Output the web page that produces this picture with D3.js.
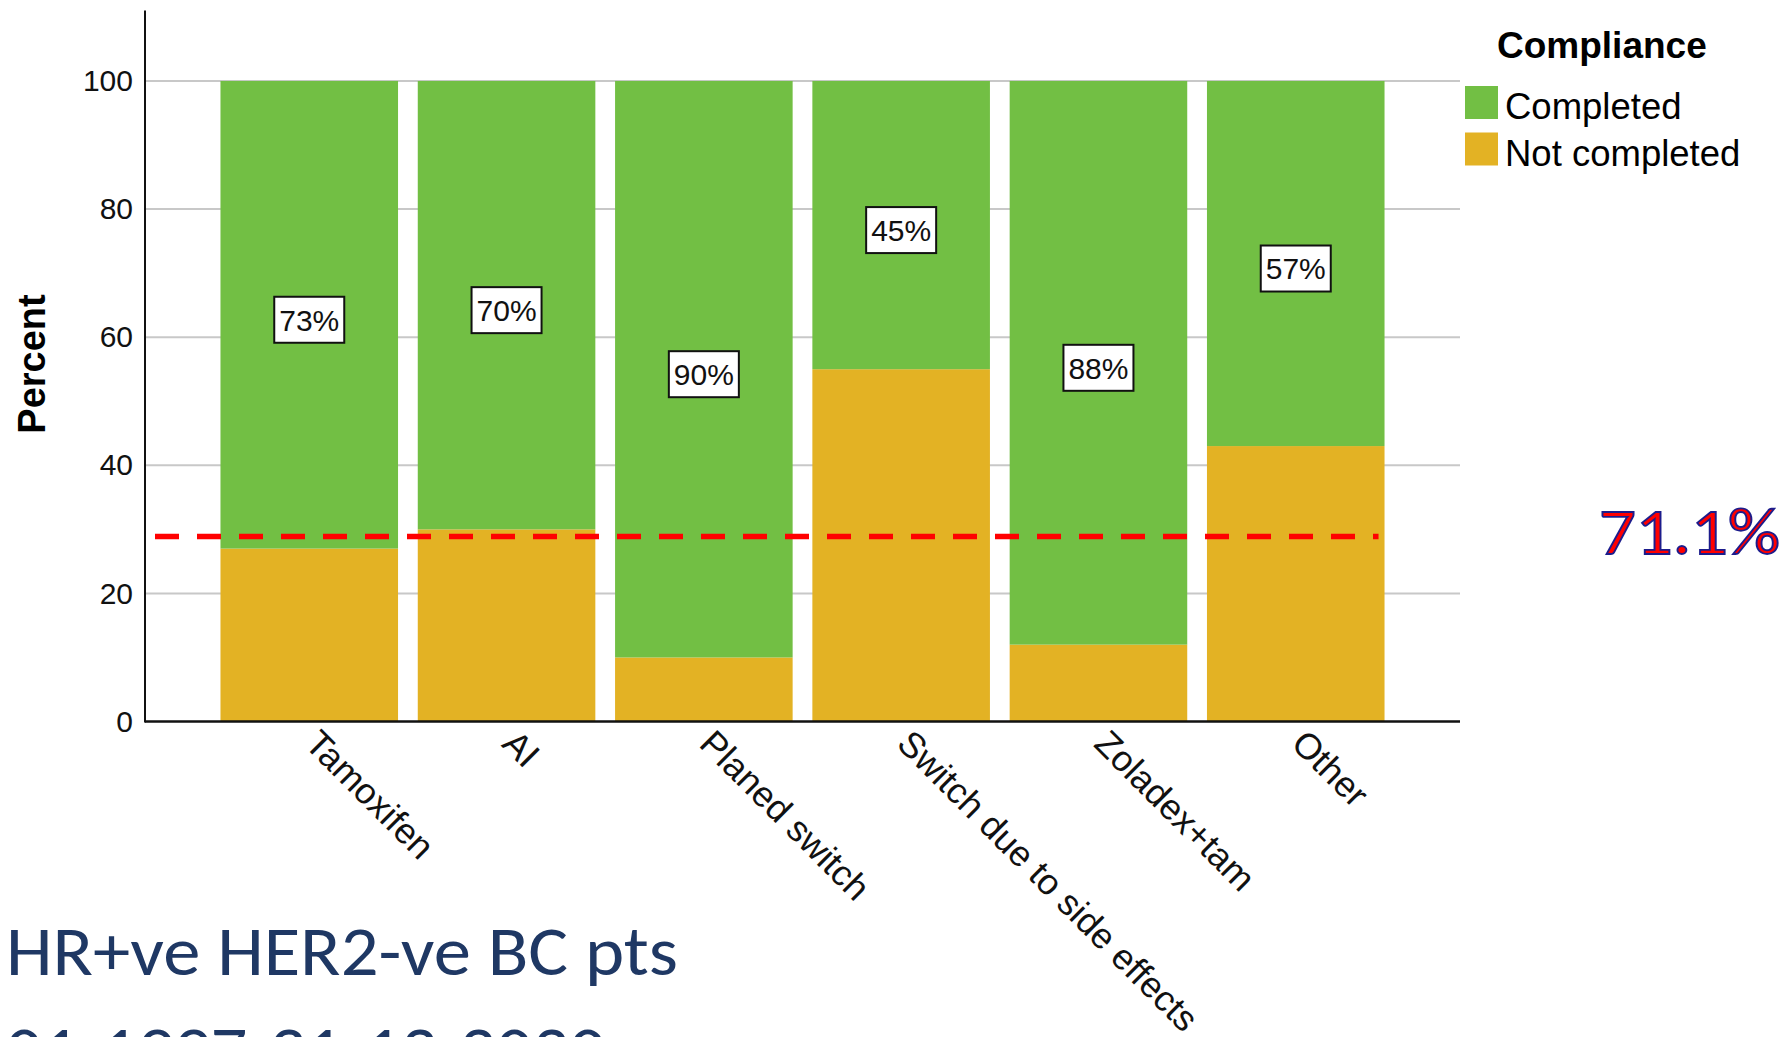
<!DOCTYPE html>
<html>
<head>
<meta charset="utf-8">
<script src="https://cdn.jsdelivr.net/npm/d3@7"></script>
<style>
  html, body { margin: 0; padding: 0; background: #fff; overflow: hidden; }
  svg { display: block; }
</style>
</head>
<body>
<svg id="chart" width="1788" height="1037"></svg>
<script>
// Treatment groups and the share of patients in each compliance class (%)
const categories = ["Tamoxifen", "AI", "Planed switch", "Switch due to side effects", "Zoladex+tam", "Other"];
const completed = [73, 70, 90, 45, 88, 57];
const notCompleted = [27, 30, 10, 55, 12, 43];
const overallCompleted = 71.1;
const yTicks = [0, 20, 40, 60, 80, 100];
const seriesNames = ["Completed", "Not completed"];
const seriesColors = ["#72bf44", "#e3b224"];
const footerLines = ["HR+ve HER2-ve BC pts", "01-1997-31-12-2020"];
const footerWidths = [672, 600];

const svg = d3.select("#chart");
const plot = { left: 145, right: 1460, top: 10.5, bottom: 721.5 };

const x = d3.scaleBand()
  .domain(categories)
  .range([plot.left, plot.right])
  .paddingInner(0.1)
  .paddingOuter(0.3825);

const y = d3.scaleLinear()
  .domain([0, 111])
  .range([plot.bottom, plot.top]);

// Horizontal gridlines
svg.append("g")
  .selectAll("line")
  .data(yTicks.filter(t => t > 0))
  .join("line")
  .attr("x1", plot.left).attr("x2", plot.right)
  .attr("y1", d => y(d)).attr("y2", d => y(d))
  .attr("stroke", "#c8c8c8").attr("stroke-width", 2);

// Stacked bars: "Not completed" at the bottom, "Completed" on top
const rows = categories.map((c, i) => ({ cat: c, Completed: completed[i], "Not completed": notCompleted[i] }));
const stack = d3.stack().keys(["Not completed", "Completed"])(rows);
const color = d3.scaleOrdinal().domain(seriesNames).range(seriesColors);

svg.append("g")
  .selectAll("g")
  .data(stack)
  .join("g")
  .attr("fill", s => color(s.key))
  .selectAll("rect")
  .data(s => s)
  .join("rect")
  .attr("x", d => x(d.data.cat))
  .attr("width", x.bandwidth())
  .attr("y", d => y(d[1]))
  .attr("height", d => y(d[0]) - y(d[1]));

// Boxed percentage labels in the middle of each "Completed" segment
const compLayer = stack.find(s => s.key === "Completed");
const labels = svg.append("g")
  .selectAll("g")
  .data(compLayer)
  .join("g")
  .attr("transform", d => `translate(${x(d.data.cat) + x.bandwidth() / 2},${(y(d[0]) + y(d[1])) / 2 + 5})`);
labels.append("rect")
  .attr("x", -35).attr("y", -23).attr("width", 70).attr("height", 46)
  .attr("fill", "#fff").attr("stroke", "#111").attr("stroke-width", 2);
labels.append("text")
  .attr("text-anchor", "middle")
  .attr("dy", "0.36em")
  .attr("font-family", "Liberation Sans, Arial, sans-serif")
  .attr("font-size", 30)
  .attr("fill", "#111")
  .text(d => `${d.data.Completed}%`);

// Overall completion reference line
const refY = y(100 - overallCompleted);
svg.append("line")
  .attr("x1", plot.left + 10).attr("x2", x(categories[categories.length - 1]) + x.bandwidth() - 6)
  .attr("y1", refY).attr("y2", refY)
  .attr("stroke", "#ff0000").attr("stroke-width", 5.5)
  .attr("stroke-dasharray", "24 18");

svg.append("text")
  .attr("x", 1599).attr("y", refY + 18)
  .attr("font-family", "Carlito, Lato, sans-serif")
  .attr("font-size", 66)
  .attr("textLength", 181).attr("lengthAdjust", "spacingAndGlyphs")
  .attr("fill", "#ff0000")
  .attr("stroke", "#1c1c8c").attr("stroke-width", 1.8)
  .text(`${overallCompleted}%`);

// Y axis
const yAxis = svg.append("g")
  .attr("transform", `translate(${plot.left},0)`)
  .call(d3.axisLeft(y).tickValues(yTicks).tickSize(0).tickPadding(12));
yAxis.select(".domain").remove();
yAxis.selectAll("text")
  .attr("font-family", "Liberation Sans, Arial, sans-serif")
  .attr("font-size", 30)
  .attr("fill", "#111");
svg.append("line")
  .attr("x1", plot.left).attr("x2", plot.left)
  .attr("y1", plot.top).attr("y2", plot.bottom + 1)
  .attr("stroke", "#111").attr("stroke-width", 2);

// X axis with rotated category labels
const xAxis = svg.append("g")
  .attr("transform", `translate(0,${plot.bottom})`)
  .call(d3.axisBottom(x).tickSize(0).tickPadding(0));
xAxis.select(".domain").remove();
xAxis.selectAll("text")
  .attr("font-family", "Liberation Sans, Arial, sans-serif")
  .attr("font-size", 36)
  .attr("fill", "#111")
  .attr("text-anchor", "start")
  .attr("dy", null)
  .attr("y", 0)
  .attr("transform", "translate(-6,24) rotate(45)");
svg.append("line")
  .attr("x1", plot.left).attr("x2", plot.right)
  .attr("y1", plot.bottom).attr("y2", plot.bottom)
  .attr("stroke", "#111").attr("stroke-width", 2.5);

// Y axis title
svg.append("text")
  .attr("transform", `translate(45,364) rotate(-90)`)
  .attr("text-anchor", "middle")
  .attr("font-family", "Liberation Sans, Arial, sans-serif")
  .attr("font-weight", "bold")
  .attr("font-size", 38)
  .attr("fill", "#000")
  .text("Percent");

// Legend
const legend = svg.append("g");
legend.append("text")
  .attr("x", 1497).attr("y", 58)
  .attr("font-family", "Liberation Sans, Arial, sans-serif")
  .attr("font-weight", "bold")
  .attr("font-size", 37)
  .attr("fill", "#000")
  .text("Compliance");
const items = legend.selectAll("g.item")
  .data(seriesNames)
  .join("g")
  .attr("class", "item")
  .attr("transform", (d, i) => `translate(1465,${86 + i * 46.5})`);
items.append("rect")
  .attr("width", 33).attr("height", 33)
  .attr("fill", d => color(d));
items.append("text")
  .attr("x", 40).attr("y", 33)
  .attr("font-family", "Liberation Sans, Arial, sans-serif")
  .attr("font-size", 36.5)
  .attr("fill", "#000")
  .text(d => d);

// Footer caption
svg.append("g")
  .selectAll("text")
  .data(footerLines)
  .join("text")
  .attr("x", 6)
  .attr("y", (d, i) => 975 + i * 100)
  .attr("font-family", "Carlito, Lato, sans-serif")
  .attr("font-size", 70)
  .attr("textLength", (d, i) => footerWidths[i])
  .attr("lengthAdjust", "spacingAndGlyphs")
  .attr("fill", "#1f3864")
  .text(d => d);
</script>
</body>
</html>
